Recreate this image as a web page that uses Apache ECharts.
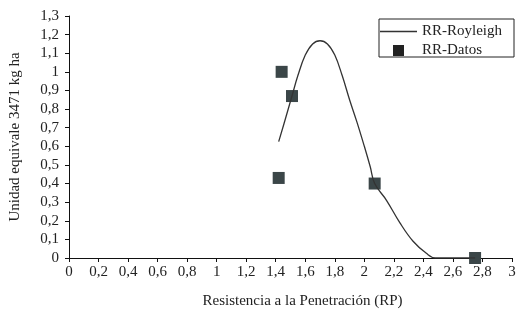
<!DOCTYPE html>
<html>
<head>
<meta charset="utf-8">
<script src="https://cdn.jsdelivr.net/npm/echarts@6/dist/echarts.min.js"></script>
<style>
    html, body { margin: 0; padding: 0; background: #fff; }
    #chart { width: 520px; height: 316px; }
</style>
</head>
<body>
<div id="chart"></div>
<script>
// Royleigh fitted curve
var curveX = [1.42, 1.47, 1.51, 1.55, 1.60, 1.65, 1.70, 1.75, 1.80, 1.85, 1.90, 1.95, 2.00, 2.04, 2.07, 2.15, 2.24, 2.33, 2.42, 2.48, 2.60, 2.75]
var curveY = [0.625, 0.76, 0.87, 0.98, 1.09, 1.15, 1.167, 1.15, 1.09, 0.98, 0.85, 0.73, 0.60, 0.49, 0.40, 0.31, 0.19, 0.09, 0.025, 0, 0, 0]
// measured points
var datosX = [1.44, 1.51, 1.42, 2.07, 2.75]
var datosY = [1.0, 0.87, 0.43, 0.40, 0]

var serieNames = ["RR-Royleigh", "RR-Datos"]

function coma(v) {
    return String(Math.round(v * 10) / 10).replace(".", ",")
}

var chart = echarts.init(document.getElementById("chart"))
var font = "Liberation Serif"
var legendText = { fontFamily: font, fontSize: 15, color: "#222" }

var option = {
    animation: false,
    grid: { left: 69, right: 8, top: 16, bottom: 58 },
    legend: [
        {
            // first row + the frame round both rows
            left: 379,
            top: 19,
            padding: [5, 12, 18, 1],
            itemWidth: 37,
            itemHeight: 1.5,
            icon: "rect",
            borderColor: "#222",
            borderWidth: 1,
            textStyle: legendText,
            data: [{ name: serieNames[0], itemStyle: { color: "#333" } }]
        },
        {
            left: 393,
            top: 43,
            padding: 0,
            itemWidth: 11,
            itemHeight: 11,
            icon: "rect",
            textStyle: Object.assign({ padding: [0, 0, 0, 13] }, legendText),
            data: [{ name: serieNames[1], itemStyle: { color: "#222" } }]
        }
    ],
    xAxis: {
        type: "value",
        min: 0,
        max: 3,
        interval: 0.2,
        name: "Resistencia a la Penetración (RP)",
        nameLocation: "middle",
        nameGap: 36,
        nameTextStyle: { fontFamily: font, fontSize: 15, color: "#222", padding: [0, 0, 0, 24] },
        axisLine: { lineStyle: { color: "#111", width: 1 } },
        axisTick: { length: 4, lineStyle: { color: "#111" } },
        axisLabel: { margin: 7, fontFamily: font, fontSize: 15, color: "#222", formatter: coma },
        splitLine: { show: false }
    },
    yAxis: {
        type: "value",
        min: 0,
        max: 1.3,
        interval: 0.1,
        name: "Unidad equivale 3471 kg ha",
        nameLocation: "middle",
        nameGap: 46,
        nameTextStyle: { fontFamily: font, fontSize: 15, color: "#222" },
        axisLine: { show: true, lineStyle: { color: "#111", width: 1 } },
        axisTick: { show: true, length: 4, lineStyle: { color: "#111" } },
        axisLabel: { margin: 10, fontFamily: font, fontSize: 15, color: "#222", formatter: coma },
        splitLine: { show: false }
    },
    series: [
        {
            name: serieNames[0],
            type: "line",
            symbol: "none",
            smooth: 0.4,
            lineStyle: { color: "#333", width: 1.3 },
            itemStyle: { color: "#333" },
            data: curveX.map(function (x, i) { return [x, curveY[i]] })
        },
        {
            name: serieNames[1],
            type: "scatter",
            symbol: "rect",
            symbolSize: 12,
            itemStyle: { color: "#3b4648", opacity: 1 },
            data: datosX.map(function (x, i) { return [x, datosY[i]] })
        }
    ]
}

chart.setOption(option)
</script>
</body>
</html>
